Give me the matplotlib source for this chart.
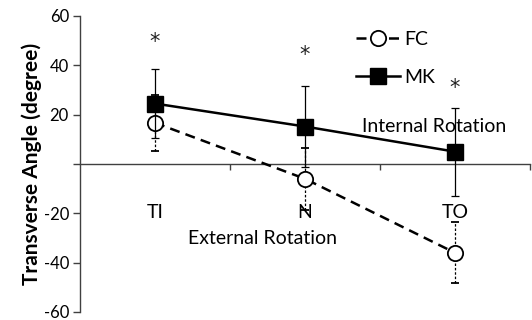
import matplotlib.pyplot as plt
from matplotlib.lines import Line2D
import numpy as np

plt.rcParams['font.family'] = ['Lato', 'DejaVu Sans']

categories = ["TI", "N", "TO"]
fc_mean = [16.7, -6.0, -36.0]
fc_sd = [11.4, 12.6, 12.4]
mk_mean = [24.5, 15.2, 5.0]
mk_sd = [14.0, 16.5, 17.8]
star_y = [49.5, 44.0, 31.0]
y_ticks = [60, 40, 20, 0, -20, -40, -60]

fig = plt.figure(figsize=(5.32, 3.2), dpi=100)
ax = fig.add_axes([80 / 532, 1 - 312 / 320, 450 / 532, 296 / 320])

x = np.arange(1, len(categories) + 1)

# FC: dashed line, open circles, dashed error bars
fc = ax.errorbar(x, fc_mean, yerr=fc_sd, color='black', ls='--', lw=1.8,
                 marker='o', ms=11, mfc='white', mec='black', mew=1.3,
                 ecolor='black', elinewidth=0.9, capsize=3, capthick=0.9,
                 dashes=(4, 2.5), zorder=3)
for bar in fc[2]:
    bar.set_linestyle((0, (2, 1.5)))

# MK: solid line, filled squares
ax.errorbar(x, mk_mean, yerr=mk_sd, color='black', ls='-', lw=1.8,
            marker='s', ms=12, mfc='black', mec='black',
            ecolor='black', elinewidth=0.9, capsize=3, capthick=0.9,
            zorder=4)

for xi, yi in zip(x, star_y):
    ax.text(xi, yi, '*', ha='center', va='center', fontsize=15,
            family='DejaVu Sans', color='#222222')

ax.text(3.5 - 0.16, 15, 'Internal Rotation', ha='right', va='center', fontsize=14)
ax.text(1.72, -30, 'External Rotation', ha='center', va='center', fontsize=14)

for xi, lab in zip(x, categories):
    ax.text(xi, -19.5, lab, ha='center', va='center', fontsize=14)

ax.set_xlim(0.5, 3.5)
ax.set_ylim(-60, 60)
ax.spines['bottom'].set_position(('data', 0))
ax.spines['top'].set_visible(False)
ax.spines['right'].set_visible(False)
for s in ['left', 'bottom']:
    ax.spines[s].set_linewidth(1.0)
    ax.spines[s].set_color('#404040')

ax.set_xticks([1.5, 2.5, 3.5])
ax.set_xticklabels([])
ax.tick_params(axis='x', direction='out', length=4, width=1, color='#404040')
ax.set_yticks(y_ticks)
ax.set_yticklabels([str(t) if t != 0 else '' for t in y_ticks], fontsize=12)
ax.tick_params(axis='y', direction='out', length=5, width=1, color='#404040', pad=3)

ax.set_ylabel('Transverse Angle (degree)', fontsize=15, fontweight='bold', labelpad=1)

handles = [
    Line2D([], [], color='black', ls='--', lw=1.8, dashes=(4, 2.5), marker='o',
           ms=11, mfc='white', mec='black', mew=1.3),
    Line2D([], [], color='black', ls='-', lw=1.8, marker='s', ms=12, mfc='black'),
]
ax.legend(handles, ['FC', 'MK'], loc='upper left', bbox_to_anchor=(258 / 450, 1.01),
          frameon=False, fontsize=14, handlelength=2.3, labelspacing=1.1,
          handletextpad=0.2)

fig.savefig('out.png', dpi=100)
